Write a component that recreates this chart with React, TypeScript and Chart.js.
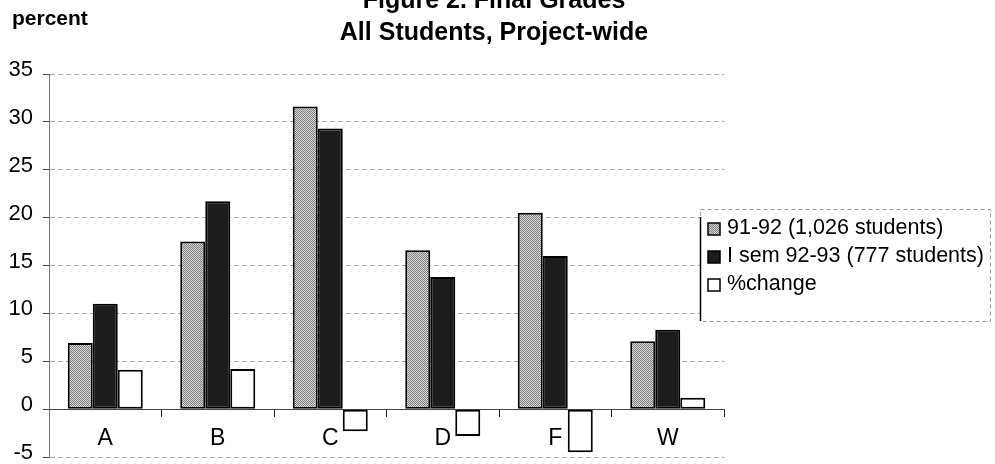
import React, { useEffect, useRef } from 'react';
import { Chart, registerables } from 'chart.js';

Chart.register(...registerables);

const categories = ['A', 'B', 'C', 'D', 'F', 'W'];
const grades9192 = [6.9, 17.5, 31.6, 16.6, 20.5, 7.1];
const grades9293 = [11.0, 21.7, 29.3, 13.8, 16.0, 8.3];
const pctChange = [4.1, 4.2, -2.3, -2.8, -4.5, 1.2];
const seriesLabels = ['91-92 (1,026 students)', 'I sem 92-93 (777 students)', '%change'];
const titleLines = ['Figure 2. Final Grades', 'All Students, Project-wide'];
const yAxisTitle = 'percent';
const yMin = -5;
const yMax = 35;
const yStep = 5;

const FONT = '"Liberation Sans", Arial, Helvetica, sans-serif';

function makeGrayPattern(): CanvasPattern | string {
  const c = document.createElement('canvas');
  c.width = 2;
  c.height = 2;
  const g = c.getContext('2d');
  if (!g) return '#ababab';
  g.fillStyle = '#dadada';
  g.fillRect(0, 0, 2, 2);
  g.fillStyle = '#7c7c7c';
  g.fillRect(0, 0, 1, 1);
  g.fillRect(1, 1, 1, 1);
  const p = g.createPattern(c, 'repeat');
  return p || '#ababab';
}

const decorPlugin = {
  id: 'decor',
  afterDraw(chart: any) {
    const ctx: CanvasRenderingContext2D = chart.ctx;
    ctx.save();
    ctx.fillStyle = '#000';
    ctx.textBaseline = 'alphabetic';
    ctx.font = `bold 25px ${FONT}`;
    ctx.textAlign = 'center';
    ctx.fillText(titleLines[0], 494, 8);
    ctx.fillText(titleLines[1], 494, 40);
    ctx.font = `bold 21px ${FONT}`;
    ctx.textAlign = 'left';
    ctx.fillText(yAxisTitle, 12, 25);

    // legend box
    const bx = 700, by = 209, bw = 290, bh = 112;
    ctx.fillStyle = '#fff';
    ctx.fillRect(bx, by, bw, bh);
    ctx.strokeStyle = '#9a9a9a';
    ctx.lineWidth = 1;
    ctx.setLineDash([4, 3]);
    ctx.strokeRect(bx + 0.5, by + 0.5, bw, bh);
    ctx.setLineDash([]);
    ctx.strokeStyle = '#000';
    ctx.lineWidth = 1.5;
    ctx.beginPath();
    ctx.moveTo(bx + 0.5, by + 8);
    ctx.lineTo(bx + 0.5, by + bh);
    ctx.stroke();

    const baselines = [234, 262, 290];
    ctx.font = `21.5px ${FONT}`;
    chart.data.datasets.forEach((ds: any, i: number) => {
      const base = baselines[i];
      ctx.fillStyle = ds.backgroundColor;
      ctx.fillRect(708, base - 11, 12, 12);
      ctx.strokeStyle = '#000';
      ctx.lineWidth = 1.5;
      ctx.strokeRect(708, base - 11, 12, 12);
      ctx.fillStyle = '#000';
      ctx.fillText(seriesLabels[i], 727, base);
    });
    ctx.restore();
  },
};

export default function App() {
  const canvasRef = useRef<HTMLCanvasElement | null>(null);

  useEffect(() => {
    if (!canvasRef.current) return;
    const gray = makeGrayPattern();
    const chart = new Chart(canvasRef.current, {
      type: 'bar',
      data: {
        labels: categories,
        datasets: [
          {
            label: seriesLabels[0],
            data: grades9192,
            backgroundColor: gray as any,
            borderColor: '#000',
            borderWidth: 2,
            borderSkipped: false,
          },
          {
            label: seriesLabels[1],
            data: grades9293,
            backgroundColor: '#1c1c1c',
            borderColor: '#000',
            borderWidth: 2,
            borderSkipped: false,
          },
          {
            label: seriesLabels[2],
            data: pctChange,
            backgroundColor: '#ffffff',
            borderColor: '#000',
            borderWidth: 2,
            borderSkipped: false,
          },
        ],
      },
      options: {
        animation: false,
        responsive: true,
        maintainAspectRatio: false,
        datasets: {
          bar: { barPercentage: 1.0, categoryPercentage: 0.667 },
        },
        layout: { padding: { top: 74, right: 271, bottom: 7, left: 0 } },
        plugins: {
          legend: { display: false },
          title: { display: false },
          tooltip: { enabled: false },
        },
        scales: {
          x: {
            position: { y: 0 } as any,
            afterFit: (s: any) => {
              s.height = 0;
              s.paddingLeft = 0;
              s.paddingRight = 0;
            },
            grid: {
              offset: true,
              drawOnChartArea: false,
              drawTicks: true,
              tickLength: 7,
              tickColor: '#222',
              tickWidth: 1,
            },
            border: { display: true, color: '#444', width: 1, dash: [3, 2] },
            ticks: {
              color: '#000',
              font: { family: FONT, size: 23 },
              padding: 9,
              maxRotation: 0,
            },
          },
          y: {
            min: yMin,
            max: yMax,
            afterFit: (s: any) => {
              s.width = 49;
              s.paddingTop = 0;
              s.paddingBottom = 0;
            },
            ticks: {
              stepSize: yStep,
              color: '#000',
              font: { family: FONT, size: 22 },
              padding: 10,
              labelOffset: -4,
            },
            grid: {
              color: (c: any) => (c.tick && c.tick.value === 0 ? '#555' : '#a8a8a8'),
              lineWidth: 1,
              tickLength: 6,
              tickColor: '#444',
              tickBorderDash: [],
            },
            border: { display: true, color: '#777', width: 1, dash: [5, 3] },
          },
        },
      },
      plugins: [decorPlugin],
    });
    return () => chart.destroy();
  }, []);

  return (
    <div style={{ position: 'fixed', left: 0, top: 0, width: 995, height: 464, background: '#fff' }}>
      <canvas ref={canvasRef} />
    </div>
  );
}
